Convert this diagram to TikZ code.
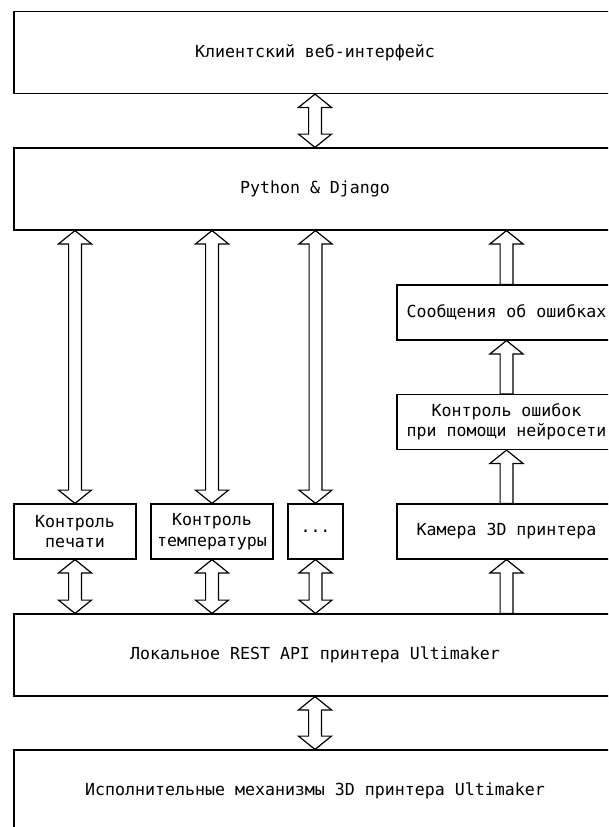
\documentclass[tikz,border=0pt]{standalone}
\usepackage{fontspec}
\setmainfont{DejaVu Sans Mono}
\usetikzlibrary{calc}

\begin{document}
\begin{tikzpicture}[x=1pt, y=-1pt, line width=1.2pt]
    \tikzstyle{every node}=[font=\fontsize{16.6}{20.5}\selectfont]
    \tikzstyle{block}=[draw, rectangle, inner sep=0pt, align=center]
    \tikzstyle{wide}=[block, minimum width=602pt, minimum height=82pt]
    \tikzstyle{side}=[block, minimum width=219pt, minimum height=55pt]
    \tikzstyle{small}=[block, minimum width=122pt, minimum height=55pt]
    % hollow arrows, upper end first for twoway, lower end first for oneway
    \tikzstyle{twoway}=[draw, fill=white, to path={let \p1=(\tikztostart), \p2=(\tikztotarget) in
        (\x1,\y1) -- (\x1+16.5pt,\y1-13.3pt) -- (\x1+6.4pt,\y1-13.3pt) -- (\x1+6.4pt,\y2+13.3pt)
        -- (\x1+16.5pt,\y2+13.3pt) -- (\x1,\y2) -- (\x1-16.5pt,\y2+13.3pt) -- (\x1-6.4pt,\y2+13.3pt)
        -- (\x1-6.4pt,\y1-13.3pt) -- (\x1-16.5pt,\y1-13.3pt) -- cycle}]
    \tikzstyle{oneway}=[draw, fill=white, to path={let \p1=(\tikztostart), \p2=(\tikztotarget) in
        (\x1-6.4pt,\y1) -- (\x1-6.4pt,\y2-13.3pt) -- (\x1-16.5pt,\y2-13.3pt) -- (\x1,\y2)
        -- (\x1+16.5pt,\y2-13.3pt) -- (\x1+6.4pt,\y2-13.3pt) -- (\x1+6.4pt,\y1) -- cycle}]

    \useasboundingbox (0,0) rectangle (608,827);
    \clip (0,0) rectangle (608,827);

    \node [wide] (web) at (315,52.5) {Клиентский веб-интерфейс};
    \node [wide] (django) at (315,189) {Python \& Django};
    \node [side] (errmsg) at (506.5,312.5) {Сообщения об ошибках};
    \node [side] (nncheck) at (506.5,422) {Контроль ошибок\\при помощи нейросети};
    \node [small] (ctrlprint) at (75,531.5) {Контроль\\печати};
    \node [small] (ctrltemp) at (212,531.5) {Контроль\\температуры};
    \node [block, minimum width=55pt, minimum height=55pt] (other) at (315.5,531.5) {...};
    \node [side] (camera) at (506.5,531.5) {Камера 3D принтера};
    \node [wide] (rest) at (315,655) {Локальное REST API принтера Ultimaker};
    \node [wide] (mech) at (315,791) {Исполнительные механизмы 3D принтера Ultimaker};

    \draw [twoway] (web.south) to (django.north);
    \foreach \col in {ctrlprint, ctrltemp, other} {
        \draw [twoway] (django.south -| \col) to (\col.north);
        \draw [twoway] (\col.south) to (rest.north -| \col);
    }
    \draw [oneway] (rest.north -| camera) to (camera.south);
    \draw [oneway] (camera.north) to (nncheck.south);
    \draw [oneway] (nncheck.north) to (errmsg.south);
    \draw [oneway] (errmsg.north) to (django.south -| errmsg);
    \draw [twoway] (rest.south) to (mech.north);
\end{tikzpicture}
\end{document}
